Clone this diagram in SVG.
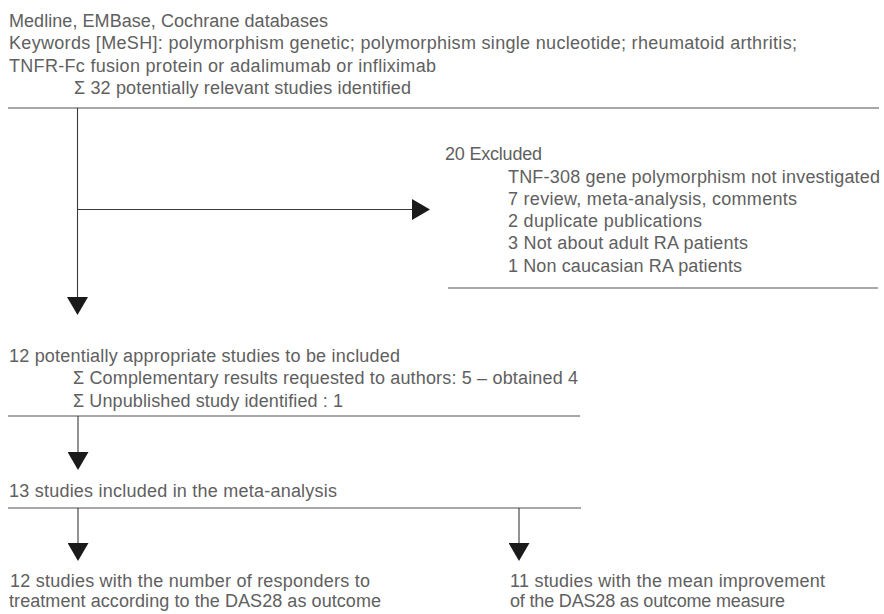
<svg xmlns="http://www.w3.org/2000/svg" width="884" height="614" viewBox="0 0 884 614">
<style>
  text { font-family: "Liberation Sans", Arial, sans-serif; font-size: 18px; fill: #606060; }
  .rule { stroke: #8a8a8a; stroke-width: 1.6; fill: none; }
  .conn { stroke: #3a3a3a; stroke-width: 1.1; fill: none; }
</style>
<defs>
  <marker id="arrow" viewBox="0 0 18 21" markerWidth="18" markerHeight="21" refX="0" refY="10.5" orient="auto" markerUnits="userSpaceOnUse">
    <path d="M0,0 L18,10.5 L0,21 Z" fill="#1a1a1a"/>
  </marker>
</defs>
<rect width="884" height="614" fill="#fff"/>

<g id="search">
  <text x="9" y="27" textLength="319">Medline, EMBase, Cochrane databases</text>
  <text x="9" y="49" textLength="788">Keywords [MeSH]: polymorphism genetic; polymorphism single nucleotide; rheumatoid arthritis;</text>
  <text x="9" y="72" textLength="427">TNFR-Fc fusion protein or adalimumab or infliximab</text>
  <text x="74" y="94" textLength="337">Σ 32 potentially relevant studies identified</text>
  <line class="rule" x1="8" y1="108" x2="879" y2="108"/>
</g>

<g id="excluded">
  <text x="445" y="160" textLength="97">20 Excluded</text>
  <text x="508" y="183" textLength="372">TNF-308 gene polymorphism not investigated</text>
  <text x="508" y="205" textLength="289">7 review, meta-analysis, comments</text>
  <text x="508" y="227" textLength="194">2 duplicate publications</text>
  <text x="508" y="249" textLength="240">3 Not about adult RA patients</text>
  <text x="508" y="272" textLength="234">1 Non caucasian RA patients</text>
  <line class="rule" x1="448" y1="288" x2="878" y2="288"/>
</g>

<g id="appropriate">
  <text x="9" y="362" textLength="391">12 potentially appropriate studies to be included</text>
  <text x="73" y="384" textLength="505">Σ Complementary results requested to authors: 5 – obtained 4</text>
  <text x="73" y="407" textLength="270">Σ Unpublished study identified : 1</text>
  <line class="rule" x1="8" y1="416" x2="580" y2="416"/>
</g>

<g id="included">
  <text x="9" y="497" textLength="328">13 studies included in the meta-analysis</text>
  <line class="rule" x1="8" y1="508" x2="581" y2="508"/>
</g>

<g id="responders">
  <text x="10" y="587" textLength="360">12 studies with the number of responders to</text>
  <text x="9" y="607" textLength="372">treatment according to the DAS28 as outcome</text>
</g>

<g id="improvement">
  <text x="510" y="587" textLength="315">11 studies with the mean improvement</text>
  <text x="510" y="607" textLength="275">of the DAS28 as outcome measure</text>
</g>

<g id="connectors">
  <line class="conn" x1="77.5" y1="108" x2="77.5" y2="297" marker-end="url(#arrow)"/>
  <line class="conn" x1="77.5" y1="209.5" x2="412" y2="209.5" marker-end="url(#arrow)"/>
  <line class="conn" x1="78" y1="416" x2="78" y2="452" marker-end="url(#arrow)"/>
  <line class="conn" x1="78" y1="508" x2="78" y2="543" marker-end="url(#arrow)"/>
  <line class="conn" x1="519" y1="508" x2="519" y2="543" marker-end="url(#arrow)"/>
</g>
</svg>
